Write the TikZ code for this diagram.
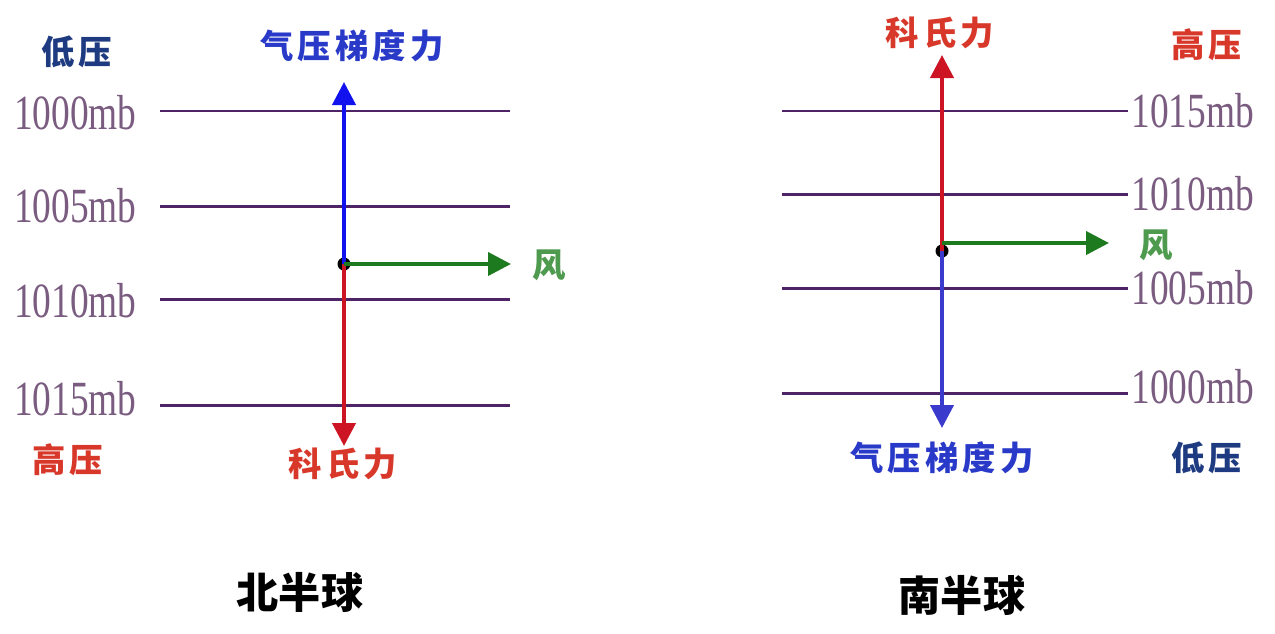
\documentclass[tikz,border=0pt]{standalone}
\usepackage{fontspec}
\setmainfont{Liberation Serif}
\newfontfamily\cjk{Noto Sans CJK SC}
\newfontfamily\numfont[FakeStretch=0.76]{Liberation Serif}
\usetikzlibrary{arrows.meta}
\definecolor{isobar}{HTML}{4E2466}
\definecolor{mbgray}{HTML}{7A5C80}
\definecolor{pgfblue}{HTML}{1212EE}
\definecolor{pgfblueb}{HTML}{3A3ACC}
\definecolor{corred}{HTML}{CC1424}
\definecolor{windgreen}{HTML}{1E7A1E}
\definecolor{lowblue}{HTML}{1E3A80}
\definecolor{txtblue}{HTML}{2A3AC8}
\definecolor{txtred}{HTML}{D8382A}
\definecolor{txtgreen}{HTML}{4E9A4E}
\tikzset{
 isoline/.style={isobar,line width=1.7pt},
 force/.style={line width=2.3pt,-{Triangle[length=0.46cm,width=0.46cm]}},
 mblabel/.style={mbgray,font=\numfont\fontsize{28}{28}\selectfont,inner sep=0pt},
 cnlabel/.style={font=\cjk\bfseries\fontsize{19}{19}\selectfont\addfontfeature{LetterSpace=12},inner sep=0pt},
 title/.style={font=\cjk\bfseries\fontsize{24}{24}\selectfont,inner sep=0pt},
 dot/.style={circle,fill=black,inner sep=0pt,minimum size=0.26cm}
}
\begin{document}
\begin{tikzpicture}[x=0.02cm,y=-0.02cm]
 \useasboundingbox (0,0) rectangle (1275,633);
 % northern hemisphere
 \foreach \y/\yl/\p in {111/113/1000,206/206/1005,299/301/1010,405/399/1015}{
  \draw[isoline] (160,\y) -- (510,\y);
  \node[mblabel,anchor=east] at (137,\yl) {\p mb};
 }
 \node[dot] (nc) at (344,264) {};
 \coordinate (nup) at (346,82);
 \coordinate (ndown) at (346,446);
 \coordinate (nright) at (511,264);
 \draw[force,pgfblue] (nc.center) -- (nc.center |- nup);
 \draw[force,corred] (nc.center) -- (nc.center |- ndown);
 \draw[force,windgreen] (nc.center) -- (nright);
 \node[cnlabel,lowblue] (nlow) at (77,52) {低压};
 \node[cnlabel,txtblue] (npg) at (352,46) {气压梯度力};
 \node[cnlabel,txtred] (nhigh) at (68,460) {高压};
 \node[cnlabel,txtred] (ncor) at (343,464) {科氏力};
 \node[cnlabel,txtgreen] (nwind) at (549,265) {风};
 \node[title] (ntitle) at (300,592) {北半球};
 % southern hemisphere
 \foreach \y/\yl/\p in {111/111/1015,194/194/1010,288/288/1005,393/387/1000}{
  \draw[isoline] (782,\y) -- (1128,\y);
  \node[mblabel,anchor=west] at (1131,\yl) {\p mb};
 }
 \node[dot] (sc) at (942,251) {};
 \coordinate (sup) at (943,55);
 \coordinate (sdown) at (943,428);
 \coordinate (sright) at (1109,243);
 \draw[force,corred] (sc.center) -- (sc.center |- sup);
 \draw[force,pgfblueb] (sc.center) -- (sc.center |- sdown);
 \draw[force,windgreen] (sc.center |- sright) -- (sright);
 \node[cnlabel,txtred] (scor) at (940,33) {科氏力};
 \node[cnlabel,txtred] (shigh) at (1207,45) {高压};
 \node[cnlabel,txtblue] (spg) at (942,458) {气压梯度力};
 \node[cnlabel,lowblue] (slow) at (1207,458) {低压};
 \node[cnlabel,txtgreen] (swind) at (1156,245) {风};
 \node[title] (stitle) at (962,595) {南半球};
\end{tikzpicture}
\end{document}
